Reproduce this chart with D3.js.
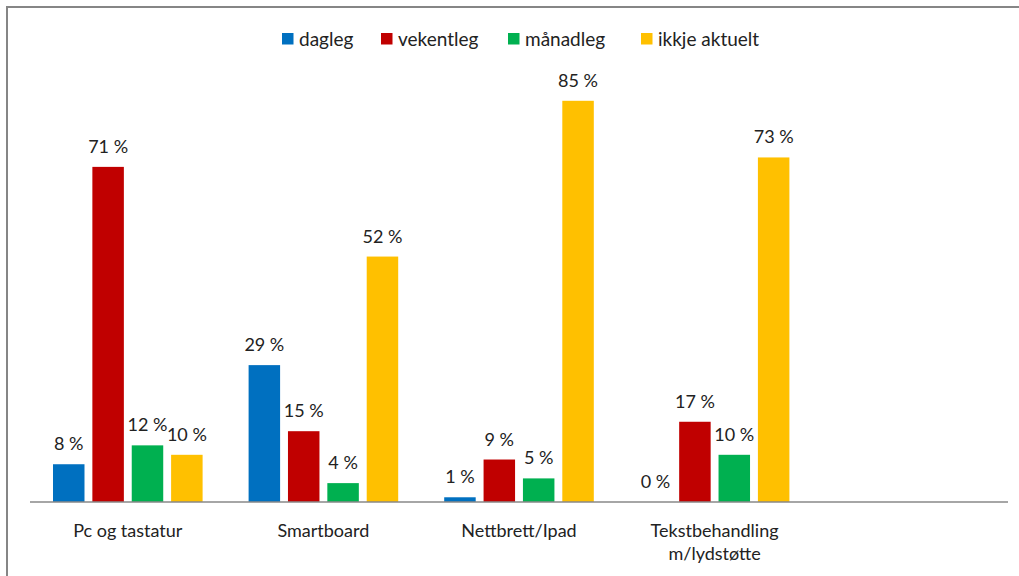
<!DOCTYPE html>
<html>
<head>
<meta charset="utf-8">
<script src="https://cdn.jsdelivr.net/npm/d3@7"></script>
<style>
  body { margin: 0; background: #fff; }
  svg { display: block; font-family: Lato, "Open Sans", sans-serif; }
</style>
</head>
<body>
<svg id="chart"></svg>
<script>
const width = 1019;
const height = 576;

// data
const categories = ["Pc og tastatur", "Smartboard", "Nettbrett/Ipad", "Tekstbehandling\nm/lydstøtte", ""];
const series = ["dagleg", "vekentleg", "månadleg", "ikkje aktuelt"];
const dagleg = [8, 29, 1, 0];
const vekentleg = [71, 15, 9, 17];
const maanadleg = [12, 4, 5, 10];
const ikkjeAktuelt = [10, 52, 85, 73];
const colors = ["#0070C0", "#C00000", "#00B050", "#FFC000"];

const values = [dagleg, vekentleg, maanadleg, ikkjeAktuelt];
const rows = [];
values.forEach((arr, si) => arr.forEach((v, ci) => rows.push({ s: series[si], c: categories[ci], v: v, si: si })));

const svg = d3.select("#chart")
    .attr("width", width)
    .attr("height", height);

// chart frame (right/bottom fall outside the picture)
svg.append("rect")
    .attr("x", 7).attr("y", 7)
    .attr("width", 1040).attr("height", 600)
    .attr("fill", "none")
    .attr("stroke", "#868686")
    .attr("stroke-width", 2);

const x = d3.scaleBand()
    .domain(categories)
    .range([30, 1008]);

const inner = d3.scaleBand()
    .domain(series)
    .range([23, x.bandwidth() - 23])
    .paddingInner(0.2);

const y = d3.scaleLinear()
    .domain([0, 100])
    .range([502, 30]);

const g = svg.append("g");

g.selectAll("rect.bar")
    .data(rows)
    .enter().append("rect")
    .attr("class", "bar")
    .attr("x", d => x(d.c) + inner(d.s))
    .attr("y", d => y(d.v))
    .attr("width", inner.bandwidth())
    .attr("height", d => y(0) - y(d.v))
    .attr("fill", d => colors[d.si]);

g.selectAll("text.lbl")
    .data(rows)
    .enter().append("text")
    .attr("class", "lbl")
    .attr("x", d => x(d.c) + inner(d.s) + inner.bandwidth() / 2)
    .attr("y", d => y(d.v) - 14)
    .attr("text-anchor", "middle")
    .attr("font-size", 18)
    .attr("fill", "#222")
    .text(d => d.v + " %");

// axis line
svg.append("line")
    .attr("x1", 30).attr("x2", 1008)
    .attr("y1", y(0)).attr("y2", y(0))
    .attr("stroke", "#898989")
    .attr("stroke-width", 1.3);

// category labels
const cats = svg.selectAll("text.cat")
    .data(categories)
    .enter().append("text")
    .attr("class", "cat")
    .attr("text-anchor", "middle")
    .attr("font-size", 18)
    .attr("fill", "#222");

cats.each(function (d) {
    d.split("\n").forEach((line, i) => {
        d3.select(this).append("tspan")
            .attr("x", x(d) + x.bandwidth() / 2)
            .attr("y", 537 + i * 23)
            .text(line);
    });
});

// legend
const legend = svg.append("g").attr("transform", "translate(282,38.5)");
const legendX = [0, 99, 226, 359];
const items = legend.selectAll("g")
    .data(series)
    .enter().append("g")
    .attr("transform", (d, i) => `translate(${legendX[i]},0)`);

items.append("rect")
    .attr("x", 0).attr("y", -5.5)
    .attr("width", 11.5).attr("height", 11.5)
    .attr("fill", (d, i) => colors[i]);

items.append("text")
    .attr("x", 17)
    .attr("y", 7.5)
    .attr("font-size", 19)
    .attr("fill", "#222")
    .text(d => d);
</script>
</body>
</html>
